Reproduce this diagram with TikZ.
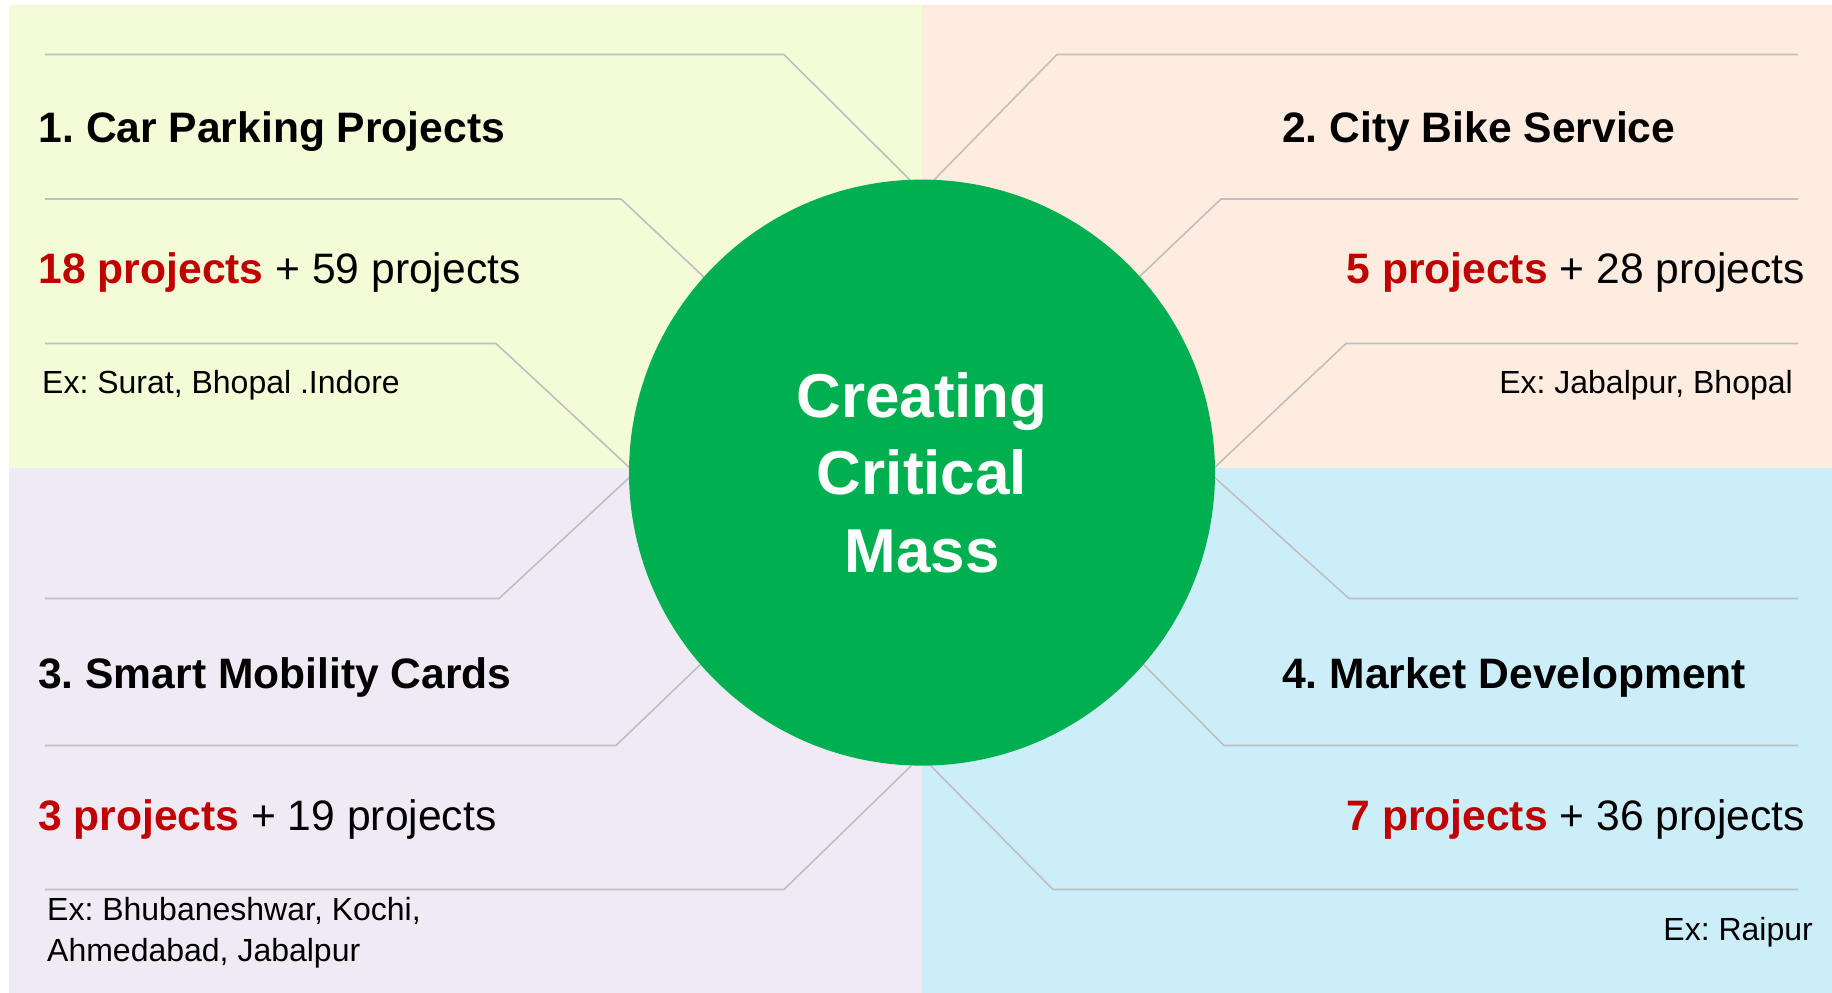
\documentclass[tikz,border=0pt]{standalone}
\usepackage{fontspec}
\setmainfont{Liberation Sans}
\frenchspacing
\definecolor{parkbg}{HTML}{F3FCD7}
\definecolor{bikebg}{HTML}{FDECDF}
\definecolor{cardbg}{HTML}{EFEAF4}
\definecolor{marketbg}{HTML}{CCEEF9}
\definecolor{massgreen}{HTML}{00B050}
\definecolor{projred}{HTML}{C00000}
\definecolor{guidegray}{HTML}{BFBFBF}
\tikzset{
  guide/.style={guidegray, line width=1.6pt, line join=round},
  heading/.style={inner sep=0pt, font=\fontsize{42.6}{50}\selectfont\bfseries},
  tally/.style={inner sep=0pt, font=\fontsize{42.6}{50}\selectfont},
  cities/.style={inner sep=0pt, font=\fontsize{32}{41}\selectfont, align=left},
}
\newcommand{\tallytext}[2]{\textcolor{projred}{\bfseries #1 projects} + #2 projects}

\begin{document}
\begin{tikzpicture}[x=1pt,y=-1pt]
\useasboundingbox (0,0) rectangle (1832,993);
\fill[parkbg] (9,5) rectangle (922,468);
\fill[bikebg] (922,5) rectangle (1832,468);
\fill[cardbg] (9,468) rectangle (922,993);
\fill[marketbg] (922,468) rectangle (1832,993);

\draw[guide] (45,54.5)--(784,54.5)--(912,182);
\draw[guide] (45,199)--(621,199)--(706,279);
\draw[guide] (45,343.5)--(496,343.5)--(631,469);
\draw[guide] (1798,54.5)--(1057,54.5)--(932,182);
\draw[guide] (1798,199)--(1221,199)--(1137,279);
\draw[guide] (1798,343.5)--(1346,343.5)--(1213,469);
\draw[guide] (45,598.5)--(499,598.5)--(631,476);
\draw[guide] (45,745.5)--(616,745.5)--(703,662);
\draw[guide] (45,889.5)--(784,889.5)--(914,763);
\draw[guide] (1798,598.5)--(1349,598.5)--(1213,476);
\draw[guide] (1798,745.5)--(1224,745.5)--(1141,662);
\draw[guide] (1798,889.5)--(1053,889.5)--(928,763);

\node[circle, fill=massgreen, minimum size=586pt, inner sep=0pt, text=white, align=center,
  font=\fontsize{62}{77.5}\selectfont\bfseries] (mass) at (922,472.6) {Creating\\Critical\\Mass};

\node[heading, anchor=base west] (park) at (38.5,142) {1. Car Parking Projects};
\node[tally, anchor=base west] (parkcount) at (38.5,283) {\tallytext{18}{59}};
\node[cities, anchor=base west] (parkcity) at (42,393) {Ex: Surat, Bhopal .Indore};

\node[heading, anchor=base west] (bike) at (1282,142) {2. City Bike Service};
\node[tally, anchor=base east] (bikecount) at (1805,283) {\tallytext{5}{28}};
\node[cities, anchor=base east] (bikecity) at (1793,393) {Ex: Jabalpur, Bhopal};

\node[heading, anchor=base west] (card) at (38,688) {3. Smart Mobility Cards};
\node[tally, anchor=base west] (cardcount) at (38,830) {\tallytext{3}{19}};
\node[cities, anchor=base west] (cardcity) at (47,961) {Ex: Bhubaneshwar, Kochi,\\Ahmedabad, Jabalpur};

\node[heading, anchor=base west] (market) at (1282,688) {4. Market Development};
\node[tally, anchor=base east] (marketcount) at (1805,830) {\tallytext{7}{36}};
\node[cities, anchor=base east] (marketcity) at (1813,940) {Ex: Raipur};
\end{tikzpicture}
\end{document}
